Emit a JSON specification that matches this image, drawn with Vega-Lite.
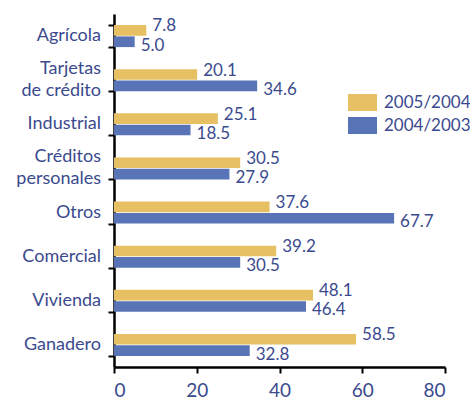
{
  "$schema": "https://vega.github.io/schema/vega-lite/v6.json",
  "autosize": {"type": "none"},
  "padding": {"left": 114, "top": 14, "right": 25, "bottom": 33},
  "width": 331,
  "height": 353,
  "background": "white",
  "config": {
    "view": {"stroke": null},
    "font": "Lato",
    "text": {"font": "Lato"}
  },
  "data": {
    "values": [
      {"cat": "Agrícola", "series": "2005/2004", "v": 7.8},
      {"cat": "Agrícola", "series": "2004/2003", "v": 5.0},
      {"cat": "Tarjetas|de crédito", "series": "2005/2004", "v": 20.1},
      {"cat": "Tarjetas|de crédito", "series": "2004/2003", "v": 34.6},
      {"cat": "Industrial", "series": "2005/2004", "v": 25.1},
      {"cat": "Industrial", "series": "2004/2003", "v": 18.5},
      {"cat": "Créditos|personales", "series": "2005/2004", "v": 30.5},
      {"cat": "Créditos|personales", "series": "2004/2003", "v": 27.9},
      {"cat": "Otros", "series": "2005/2004", "v": 37.6},
      {"cat": "Otros", "series": "2004/2003", "v": 67.7},
      {"cat": "Comercial", "series": "2005/2004", "v": 39.2},
      {"cat": "Comercial", "series": "2004/2003", "v": 30.5},
      {"cat": "Vivienda", "series": "2005/2004", "v": 48.1},
      {"cat": "Vivienda", "series": "2004/2003", "v": 46.4},
      {"cat": "Ganadero", "series": "2005/2004", "v": 58.5},
      {"cat": "Ganadero", "series": "2004/2003", "v": 32.8}
    ]
  },
  "encoding": {
    "y": {
      "field": "cat",
      "type": "nominal",
      "sort": null,
      "scale": {"paddingInner": 0.5, "paddingOuter": 0.25},
      "axis": {
        "title": null,
        "labels": false,
        "tickBand": "extent",
        "tickColor": "black",
        "tickWidth": 2,
        "tickSize": 6,
        "domainColor": "black",
        "domainWidth": 2.5
      }
    },
    "x": {
      "field": "v",
      "type": "quantitative",
      "scale": {"domain": [0, 80], "nice": false},
      "axis": {
        "title": null,
        "values": [0, 20, 40, 60, 80],
        "grid": false,
        "labelFont": "Lato",
        "labelFontSize": 19,
        "labelColor": "#3b4a8e",
        "labelDx": 5,
        "labelPadding": 8,
        "tickColor": "black",
        "tickWidth": 2,
        "tickSize": 6,
        "domainColor": "black",
        "domainWidth": 2.5
      }
    }
  },
  "layer": [
    {
      "mark": {"type": "bar"},
      "encoding": {
        "yOffset": {"field": "series", "type": "nominal", "sort": ["2005/2004", "2004/2003"], "scale": {"paddingInner": 0.06}},
        "color": {
          "field": "series",
          "type": "nominal",
          "scale": {"domain": ["2005/2004", "2004/2003"], "range": ["#e6c062", "#5874b6"]},
          "legend": {
            "title": null,
            "orient": "none",
            "legendX": 234,
            "legendY": 74,
            "padding": 0,
            "symbolType": "M-1,-0.586H1V0.586H-1Z",
            "symbolSize": 841,
            "symbolStrokeWidth": 0,
            "labelFont": "Lato",
            "labelFontSize": 17,
            "labelColor": "#3b4a8e",
            "labelOffset": 7,
            "rowPadding": -5
          }
        }
      }
    },
    {
      "transform": [{"filter": "datum.series == '2005/2004'"}],
      "mark": {"type": "text", "align": "left", "dx": 6, "dy": -4, "font": "Lato", "fontSize": 17, "color": "#3b4a8e"},
      "encoding": {
        "yOffset": {"field": "series", "type": "nominal", "sort": ["2005/2004", "2004/2003"], "scale": {"paddingInner": 0.06}},
        "text": {"field": "v", "type": "quantitative", "format": ".1f"}
      }
    },
    {
      "transform": [{"filter": "datum.series == '2004/2003'"}],
      "mark": {"type": "text", "align": "left", "dx": 6, "dy": 4, "font": "Lato", "fontSize": 17, "color": "#3b4a8e"},
      "encoding": {
        "yOffset": {"field": "series", "type": "nominal", "sort": ["2005/2004", "2004/2003"], "scale": {"paddingInner": 0.06}},
        "text": {"field": "v", "type": "quantitative", "format": ".1f"}
      }
    },
    {
      "transform": [{"filter": "datum.series == '2005/2004' && indexof(datum.cat, '|') < 0"}],
      "mark": {"type": "text", "align": "right", "baseline": "middle", "dx": -13, "font": "Lato", "fontSize": 18, "color": "#3b4a8e"},
      "encoding": {
        "x": {"datum": 0},
        "text": {"field": "cat", "type": "nominal"}
      }
    },
    {
      "transform": [{"filter": "datum.series == '2005/2004' && indexof(datum.cat, '|') >= 0"}],
      "mark": {"type": "text", "align": "right", "baseline": "middle", "dx": -13, "dy": -11, "lineBreak": "|", "lineHeight": 22, "font": "Lato", "fontSize": 18, "color": "#3b4a8e"},
      "encoding": {
        "x": {"datum": 0},
        "text": {"field": "cat", "type": "nominal"}
      }
    }
  ]
}
